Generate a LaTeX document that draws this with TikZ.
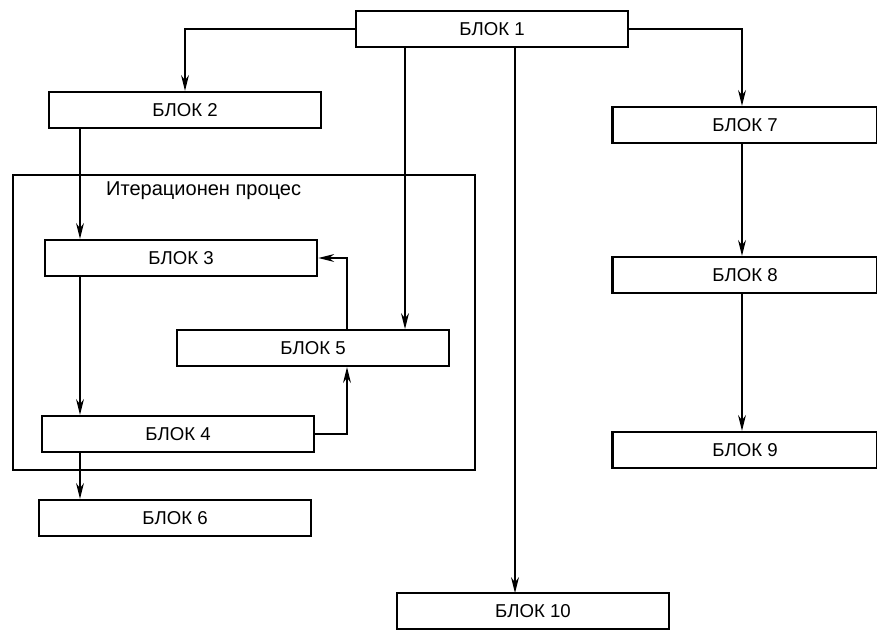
\documentclass[tikz,border=0pt]{standalone}
\usepackage{fontspec}
\setmainfont{Liberation Sans}
\usetikzlibrary{arrows.meta}

\tikzset{
  blok/.style={draw, line width=1.3pt, minimum width=5.45cm, minimum height=0.72cm,
               inner sep=0pt, font=\fontsize{10.6}{12}\selectfont},
  link/.style={line width=0.8pt, -{Stealth[length=9pt,width=4.5pt]}}
}

\begin{document}
\begin{tikzpicture}[ x=0.02cm, y=-0.02cm ]

\useasboundingbox (0,0) rectangle (877,630);

%Blocks
\node[blok] (B1) at (492,29) {БЛОК 1};
\node[blok] (B2) at (185,110) {БЛОК 2};
\node[blok] (B3) at (181,258) {БЛОК 3};
\node[blok] (B4) at (178,434) {БЛОК 4};
\node[blok] (B5) at (313,348) {БЛОК 5};
\node[blok] (B6) at (175,518) {БЛОК 6};
\node[blok, minimum width=5.3cm] (B7) at (745,125) {БЛОК 7};
\node[blok, minimum width=5.3cm] (B8) at (745,275) {БЛОК 8};
\node[blok, minimum width=5.3cm] (B9) at (745,450) {БЛОК 9};
\node[blok] (B10) at (533,611) {БЛОК 10};

%Iteration frame
\draw[line width=1.1pt] (13,175) rectangle (475,470);
\node[anchor=west, font=\fontsize{11.4}{13}\selectfont] (IT) at (100,191) {Итерационен процес};

\path (80,0) coordinate (PL);
\path (742,0) coordinate (PR);
\path (405,329) coordinate (P5);
\path (347,329) coordinate (P53);
\path (515,593) coordinate (P10);

%Links
\draw[link] (B1.west) -| (B2.north);
\draw[link] (B1.east) -| (B7.north -| PR);
\draw[link] (B1.south -| P5) -- (P5);
\draw[link] (B1.south -| P10) -- (P10);

\draw[link] (B2.south -| PL) -- (B3.north -| PL);
\draw[link] (B3.south -| PL) -- (B4.north -| PL);
\draw[link] (B4.south -| PL) -- (B6.north -| PL);
\draw[link] (B4.east) -| (B5.south -| P53);
\draw[link] (P53) |- (B3.east);

\draw[link] (B7.south -| PR) -- (B8.north -| PR);
\draw[link] (B8.south -| PR) -- (B9.north -| PR);

\end{tikzpicture}
\end{document}
